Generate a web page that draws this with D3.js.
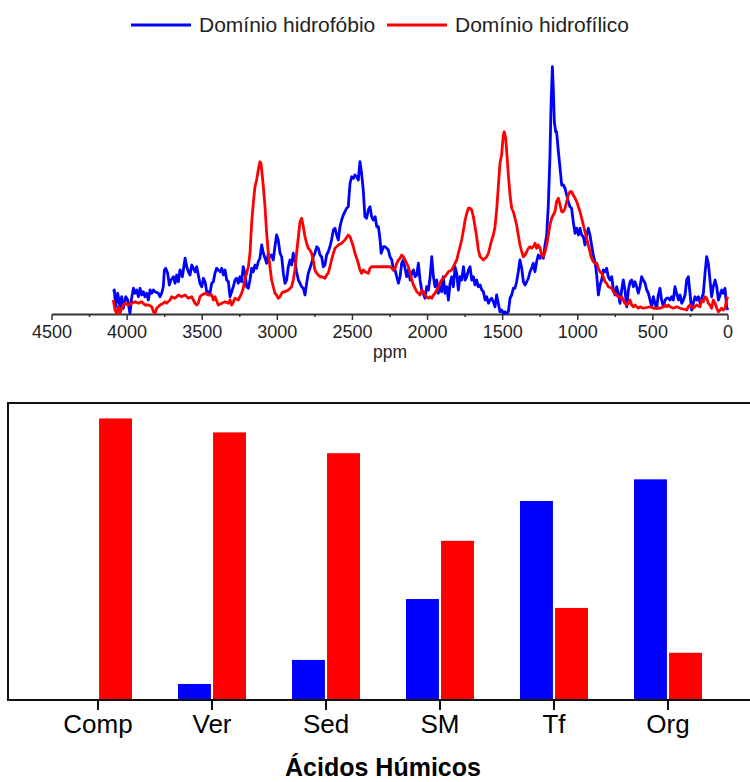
<!DOCTYPE html>
<html>
<head>
<meta charset="utf-8">
<script src="https://cdn.jsdelivr.net/npm/d3@7"></script>
<style>
  body { margin: 0; background: #fff; }
  svg { display: block; font-family: "Liberation Sans", Arial, sans-serif; }
</style>
</head>
<body>
<svg id="chart" width="750" height="782"></svg>
<script>
// espectro: [ppm, intensidade]
let hidrofobico = [
  [4092,9.1],[4085,9.8],[4076,3.1],[4063,8.5],[4047,3.1],[4036,7.1],[4025,2.5],[4009,7.1],[3996,5.8],[3981,0.5],
  [3970,6.5],[3958,10.5],[3947,8.5],[3936,9.8],[3925,7.1],[3914,10.5],[3903,7.8],[3892,9.1],[3881,7.1],[3870,8.5],
  [3859,5.8],[3847,9.8],[3836,8.5],[3825,9.8],[3814,9.1],[3792,8.5],[3781,7.1],[3770,8.5],[3759,11.1],[3752,17.8],
  [3743,18.5],[3730,16.5],[3719,11.8],[3708,13.8],[3692,15.1],[3681,12.5],[3670,15.8],[3659,13.1],[3648,17.8],[3632,15.1],
  [3614,22.5],[3603,19.1],[3592,17.1],[3581,15.8],[3570,19.8],[3559,18.5],[3548,17.1],[3537,19.1],[3526,15.8],[3515,12.5],
  [3503,11.1],[3492,14.5],[3481,13.1],[3470,9.1],[3459,9.1],[3448,8.5],[3437,12.5],[3426,13.1],[3415,16.5],[3404,18.5],
  [3393,17.8],[3381,17.1],[3370,18.5],[3359,15.8],[3348,17.8],[3337,13.8],[3326,13.1],[3315,7.1],[3304,9.1],[3293,11.1],
  [3282,13.8],[3271,14.5],[3260,12.5],[3249,15.1],[3238,13.1],[3227,19.1],[3215,16.5],[3204,11.1],[3193,10.5],[3182,13.8],
  [3171,18.5],[3160,17.1],[3149,19.8],[3138,18.5],[3127,21.1],[3116,22.5],[3104,27.8],[3093,24.5],[3082,22.5],[3071,20.5],
  [3060,24.5],[3049,23.1],[3038,23.8],[3027,21.8],[3016,27.1],[3005,31.8],[2994,29.8],[2982,24.5],[2971,23.1],[2960,16.5],
  [2949,12.5],[2938,13.8],[2927,19.1],[2916,21.8],[2905,19.8],[2894,24.5],[2883,21.8],[2872,17.1],[2860,13.8],[2849,12.5],
  [2838,11.1],[2827,10.5],[2816,7.8],[2805,12.5],[2794,16.5],[2783,18.5],[2772,20.5],[2761,23.1],[2750,24.5],[2738,27.1],
  [2727,26.5],[2716,23.8],[2705,23.1],[2694,19.1],[2683,19.8],[2672,23.8],[2661,25.1],[2650,27.1],[2639,29.8],[2627,33.8],
  [2616,34.5],[2605,31.8],[2594,29.8],[2583,35.1],[2572,37.8],[2561,39.8],[2550,41.1],[2539,42.5],[2528,43.1],[2516,52.5],
  [2505,55.1],[2494,54.5],[2483,55.8],[2472,55.1],[2461,53.8],[2450,61.1],[2439,56.5],[2428,49.8],[2417,39.1],[2406,38.5],
  [2394,41.8],[2383,43.1],[2372,39.1],[2361,37.8],[2349,39.1],[2338,35.1],[2327,35.1],[2316,29.8],[2309,24.5],[2294,27.1],
  [2283,27.1],[2272,26.5],[2261,25.8],[2250,23.1],[2238,21.8],[2227,17.8],[2216,17.8],[2205,15.1],[2194,12.5],[2183,15.1],
  [2172,20.5],[2161,21.8],[2150,18.5],[2139,15.1],[2128,17.8],[2116,13.8],[2105,16.5],[2094,17.8],[2083,15.1],[2072,15.8],
  [2061,20.5],[2050,13.8],[2039,9.8],[2028,8.5],[2017,6.5],[2006,11.1],[1994,9.8],[1983,15.1],[1972,23.1],[1961,15.1],
  [1950,11.1],[1939,13.8],[1928,8.5],[1917,11.1],[1906,9.1],[1895,15.1],[1884,8.5],[1872,11.1],[1861,5.8],[1850,12.5],
  [1839,15.1],[1828,11.1],[1817,19.1],[1806,16.5],[1795,9.8],[1784,15.1],[1773,13.8],[1761,19.1],[1750,13.8],[1739,15.1],
  [1728,17.8],[1717,19.1],[1706,13.8],[1695,15.1],[1684,11.8],[1673,13.8],[1662,11.1],[1650,11.8],[1639,9.8],[1628,9.1],
  [1617,5.8],[1606,7.1],[1595,4.5],[1584,5.8],[1573,6.5],[1562,5.1],[1551,3.1],[1540,7.8],[1529,4.5],[1518,1.1],
  [1507,1.8],[1496,0.5],[1484,1.1],[1473,0.5],[1462,1.1],[1451,6.5],[1440,7.8],[1429,10.5],[1418,10.5],[1407,13.1],
  [1396,17.1],[1385,21.8],[1373,18.5],[1362,13.1],[1351,11.8],[1340,13.1],[1329,14.5],[1318,17.1],[1307,18.5],[1296,20.5],
  [1285,17.1],[1274,21.1],[1263,23.8],[1251,22.5],[1240,23.8],[1229,22.5],[1218,27.8],[1207,31.8],[1196,43.8],[1185,63.8],
  [1178,83.8],[1169,99.1],[1163,90.5],[1156,77.1],[1147,73.1],[1141,73.1],[1129,65.1],[1118,58.5],[1107,51.8],[1096,51.8],
  [1085,50.5],[1074,47.8],[1063,45.1],[1052,43.1],[1041,42.5],[1030,37.1],[1018,32.5],[1007,34.5],[996,31.8],[985,34.5],
  [974,31.8],[963,31.1],[952,27.8],[941,31.8],[930,34.5],[919,31.8],[908,27.8],[897,23.8],[885,21.1],[874,15.8],
  [863,7.8],[852,11.8],[841,13.8],[830,17.8],[819,17.1],[808,18.5],[797,15.1],[785,13.8],[774,15.1],[763,9.8],
  [752,7.8],[741,11.1],[730,8.5],[719,4.5],[708,9.8],[697,13.8],[686,9.8],[674,3.1],[663,9.8],[652,13.1],
  [641,13.8],[630,11.1],[619,13.1],[608,11.1],[597,8.5],[586,11.1],[575,15.1],[564,13.8],[552,12.5],[541,9.8],
  [530,8.5],[519,5.8],[508,3.1],[497,7.1],[486,4.5],[475,2.5],[464,7.8],[453,10.5],[442,5.8],[430,3.1],
  [419,5.8],[408,6.5],[397,6.5],[386,5.8],[375,7.1],[364,5.8],[353,11.1],[342,8.5],[330,5.8],[319,7.8],
  [308,4.5],[297,5.8],[286,7.8],[275,13.8],[264,15.1],[253,8.5],[242,1.8],[231,4.5],[220,7.1],[209,5.8],
  [197,7.1],[186,4.5],[175,6.5],[164,8.5],[153,16.5],[142,23.1],[131,20.5],[120,13.8],[109,7.1],[98,11.1],
  [86,13.8],[75,11.1],[64,5.8],[53,7.8],[42,9.8],[31,8.5],[20,10.5],[9,3.1],[2,1.8]
];

let hidrofilico = [
  [4092,5.8],[4080,1.8],[4069,0.5],[4058,3.1],[4047,0.5],[4036,2.5],[4025,3.8],[4014,4.5],[3992,3.8],[3970,4.5],
  [3947,5.1],[3925,4.5],[3903,5.1],[3881,3.8],[3859,3.8],[3836,3.1],[3825,1.1],[3814,0.5],[3803,2.5],[3781,3.8],
  [3759,4.5],[3748,5.1],[3737,4.5],[3714,5.8],[3703,7.1],[3681,6.5],[3659,7.8],[3637,7.1],[3614,7.8],[3592,6.5],
  [3570,7.1],[3559,5.8],[3548,4.5],[3537,3.8],[3526,4.5],[3515,7.1],[3503,7.8],[3481,8.5],[3459,7.8],[3437,7.8],
  [3426,5.8],[3415,7.1],[3393,3.8],[3370,4.5],[3348,5.1],[3326,4.5],[3315,5.8],[3304,3.8],[3293,5.1],[3282,6.5],
  [3260,5.8],[3249,7.1],[3238,8.5],[3227,10.5],[3215,14.5],[3204,16.5],[3193,19.1],[3182,24.5],[3171,36.5],[3160,44.5],
  [3149,51.1],[3138,53.8],[3127,57.8],[3116,61.1],[3109,60.5],[3104,57.8],[3093,51.1],[3082,43.1],[3071,32.5],[3060,24.5],
  [3049,19.1],[3038,13.8],[3027,11.1],[3016,8.5],[3005,7.8],[2994,6.5],[2982,7.1],[2971,8.5],[2960,9.1],[2949,9.1],
  [2927,9.8],[2905,11.1],[2894,13.8],[2883,17.8],[2872,24.5],[2860,31.1],[2849,37.1],[2838,38.5],[2827,35.1],[2816,31.1],
  [2805,28.5],[2794,26.5],[2783,25.8],[2772,24.5],[2761,21.8],[2750,17.8],[2738,16.5],[2727,15.8],[2716,15.1],[2705,15.1],
  [2683,14.5],[2672,15.8],[2661,16.5],[2650,19.1],[2639,21.8],[2627,24.5],[2616,26.5],[2594,27.8],[2572,28.5],[2550,29.8],
  [2528,31.8],[2516,31.1],[2505,29.1],[2494,27.1],[2483,24.5],[2472,22.5],[2461,20.5],[2450,17.8],[2439,16.5],[2428,17.8],
  [2417,17.1],[2394,16.5],[2383,18.5],[2372,19.1],[2327,19.1],[2283,19.1],[2250,19.1],[2238,18.5],[2227,17.8],[2216,18.5],
  [2205,20.5],[2194,21.8],[2183,22.5],[2172,23.8],[2161,23.1],[2150,21.8],[2139,20.5],[2128,19.1],[2116,16.5],[2105,13.8],
  [2094,11.8],[2083,10.5],[2072,9.1],[2061,8.5],[2050,7.8],[2039,9.8],[2028,9.1],[2017,7.8],[2006,7.1],[1994,6.5],
  [1983,7.1],[1972,6.5],[1961,7.8],[1950,8.5],[1939,9.8],[1928,11.1],[1917,12.5],[1906,13.8],[1884,15.1],[1861,17.1],
  [1839,17.8],[1828,19.1],[1817,20.5],[1806,21.8],[1795,24.5],[1784,27.1],[1773,29.8],[1761,33.8],[1750,37.8],[1739,40.5],
  [1728,42.5],[1717,42.5],[1706,41.8],[1695,39.1],[1684,35.1],[1673,31.1],[1662,25.8],[1650,23.1],[1639,22.5],[1628,21.8],
  [1617,22.5],[1606,23.1],[1595,24.5],[1584,27.1],[1573,29.8],[1562,31.8],[1551,35.1],[1540,41.8],[1529,51.1],[1518,60.5],
  [1507,63.8],[1496,71.8],[1489,73.1],[1480,70.5],[1473,65.1],[1462,55.8],[1451,47.8],[1440,42.5],[1429,41.1],[1418,38.5],
  [1407,35.8],[1396,31.8],[1385,27.8],[1373,25.1],[1362,23.1],[1351,23.8],[1340,25.1],[1329,26.5],[1318,27.1],[1307,26.5],
  [1296,27.1],[1285,28.5],[1274,26.5],[1263,27.8],[1251,26.5],[1240,23.8],[1229,23.1],[1218,25.1],[1207,27.8],[1196,31.8],
  [1185,35.8],[1174,38.5],[1163,39.8],[1152,41.1],[1141,45.1],[1129,46.5],[1118,43.8],[1107,41.1],[1096,41.1],[1085,42.5],
  [1074,45.1],[1063,47.8],[1052,49.1],[1041,49.1],[1030,47.8],[1018,46.5],[1007,45.1],[996,43.1],[985,41.1],[974,38.5],
  [963,35.8],[952,33.1],[941,30.5],[930,27.8],[919,25.1],[908,22.5],[897,21.1],[885,20.5],[874,20.5],[863,18.5],
  [852,17.1],[841,16.5],[830,15.1],[819,13.1],[808,12.5],[797,11.1],[774,10.5],[763,9.1],[752,8.5],[741,7.8],
  [730,7.1],[719,6.5],[708,7.1],[697,5.8],[686,4.5],[674,3.8],[663,4.5],[652,5.8],[641,3.8],[630,3.1],
  [619,3.8],[608,3.1],[597,2.5],[586,3.1],[564,2.5],[519,3.1],[497,2.5],[453,2.5],[430,3.1],[419,3.8],
  [408,3.1],[397,3.8],[386,3.1],[364,2.5],[342,3.1],[319,2.5],[275,1.8],[264,3.1],[253,3.8],[231,2.5],
  [209,3.8],[186,3.1],[175,5.8],[164,5.1],[153,7.1],[142,6.5],[131,4.5],[120,3.8],[109,2.5],[98,5.8],
  [86,4.5],[75,2.5],[64,1.1],[53,1.8],[42,2.5],[31,1.8],[20,2.5],[9,5.8],[2,7.1]
];

let ppmTicks = [4500, 4000, 3500, 3000, 2500, 2000, 1500, 1000, 500, 0];
let series = ['Domínio hidrofóbio', 'Domínio hidrofílico'];
let colors = ['#0000ff', '#ff0000'];

let categorias = ['Comp', 'Ver', 'Sed', 'SM', 'Tf', 'Org'];
let barHidrofobico = [0, 5.4, 13.5, 34.0, 67.0, 74.3];
let barHidrofilico = [94.8, 90.1, 83.1, 53.6, 31.0, 15.9];

let svg = d3.select('#chart');

// ---- espectro (topo) ----
let x = d3.scaleLinear().domain([4500, 0]).range([52, 728]);
let y = d3.scaleLinear().domain([0, 100]).range([314.5, 64.5]);

let line = d3.line()
    .curve(d3.curveLinear)
    .x(function(d) { return x(d[0]) })
    .y(function(d) { return y(d[1]) });

let spectra = [hidrofobico, hidrofilico];

// eixo ppm
svg.append('line')
    .attr('x1', x(4500)).attr('x2', x(0))
    .attr('y1', 314.5).attr('y2', 314.5)
    .attr('stroke', '#333').attr('stroke-width', 2);

svg.append('g')
    .selectAll('line')
    .data(d3.range(4500, -1, -250))
    .enter().append('line')
    .attr('x1', d => x(d)).attr('x2', d => x(d))
    .attr('y1', 314.5)
    .attr('y2', d => d % 500 == 0 ? 320 : 317)
    .attr('stroke', '#333').attr('stroke-width', 1.5);

spectra.forEach((s, i) => {
    svg.append('path')
        .datum(s)
        .attr('d', line)
        .attr('fill', 'none')
        .attr('stroke', colors[i])
        .attr('stroke-width', 2.8)
        .attr('stroke-linejoin', 'round');
});

svg.append('g')
    .selectAll('text')
    .data(ppmTicks)
    .enter().append('text')
    .attr('x', d => x(d))
    .attr('y', 338)
    .attr('text-anchor', 'middle')
    .attr('font-size', 18)
    .attr('fill', '#222')
    .text(d => d);

svg.append('text')
    .attr('x', 390).attr('y', 358)
    .attr('text-anchor', 'middle')
    .attr('font-size', 17.5)
    .attr('fill', '#222')
    .text('ppm');

// legenda
let legendX = [131, 387];
series.forEach((name, i) => {
    svg.append('line')
        .attr('x1', legendX[i]).attr('x2', legendX[i] + 60)
        .attr('y1', 25).attr('y2', 25)
        .attr('stroke', colors[i]).attr('stroke-width', 3);
    svg.append('text')
        .attr('x', legendX[i] + 68).attr('y', 32)
        .attr('font-size', 21)
        .attr('fill', '#222')
        .text(name);
});

// ---- barras (base) ----
let xb = d3.scaleBand().domain(categorias).range([41, 725]);
let xs = d3.scaleBand().domain([0, 1]).range([-34, 34]).paddingInner(0.06);
let yb = d3.scaleLinear().domain([0, 100]).range([700, 403]);

let barValues = [barHidrofobico, barHidrofilico];

let groupsB = svg.append('g')
    .selectAll('g')
    .data(categorias)
    .enter().append('g')
    .attr('transform', d => 'translate(' + (xb(d) + xb.bandwidth() / 2) + ',0)');

groupsB.selectAll('rect')
    .data((d, ci) => barValues.map((v, si) => ({ s: si, v: v[ci] })))
    .enter().append('rect')
    .filter(d => d.v > 0)
    .attr('x', d => xs(d.s))
    .attr('width', xs.bandwidth())
    .attr('y', d => yb(d.v))
    .attr('height', d => yb(0) - yb(d.v))
    .attr('fill', d => colors[d.s]);

// moldura
svg.append('rect')
    .attr('x', 8).attr('y', yb(100))
    .attr('width', 760).attr('height', yb(0) - yb(100))
    .attr('fill', 'none')
    .attr('stroke', '#111').attr('stroke-width', 2);

groupsB.append('line')
    .attr('y1', 700).attr('y2', 710)
    .attr('stroke', '#111').attr('stroke-width', 2);

groupsB.append('text')
    .attr('y', 733)
    .attr('text-anchor', 'middle')
    .attr('font-size', 26)
    .attr('fill', '#000')
    .text(d => d);

svg.append('text')
    .attr('x', 383).attr('y', 776)
    .attr('text-anchor', 'middle')
    .attr('font-size', 25)
    .attr('font-weight', 'bold')
    .attr('fill', '#000')
    .text('Ácidos Húmicos');
</script>
</body>
</html>
